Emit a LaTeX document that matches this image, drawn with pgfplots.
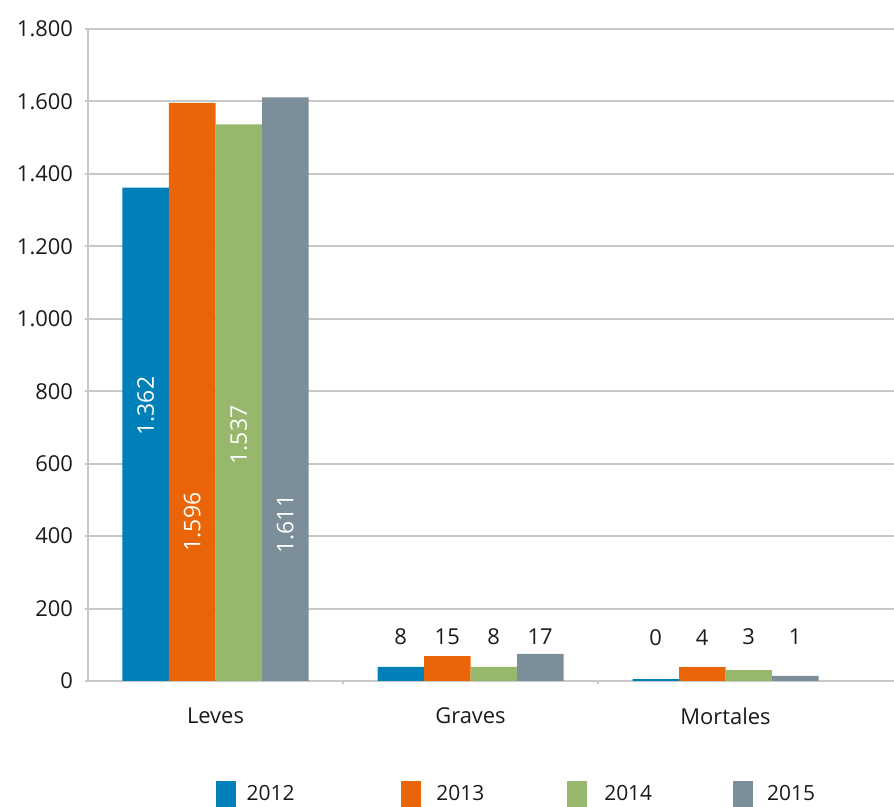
\documentclass[border=0pt]{standalone}
\usepackage{fontspec}
\setmainfont{Open Sans}
\usepackage{pgfplots}
\pgfplotsset{compat=1.18}
\definecolor{c12}{HTML}{0080B8}
\definecolor{c13}{HTML}{EA6508}
\definecolor{c14}{HTML}{96B76C}
\definecolor{c15}{HTML}{7B8E99}
\definecolor{gridc}{HTML}{C8C8C8}
\definecolor{txt}{HTML}{1A1A1A}
\begin{document}
\begin{tikzpicture}
\useasboundingbox (0,0) rectangle (447bp,403.5bp);
\begin{axis}[
  at={(44bp,63bp)}, anchor=south west,
  scale only axis, width=403bp, height=326bp,
  xmin=-0.5, xmax=2.6608, ymin=0, ymax=1800,
  ybar=0pt, bar width=23.25bp,
  axis x line*=bottom, axis y line*=left,
  axis line style={gridc, line width=1bp, -},
  ytick={0,200,...,1800},
  ymajorgrids, major grid style={gridc, line width=1bp},
  tick align=outside, major tick length=1.5bp,
  tick style={gridc, line width=1bp},
  xtick={0.5,1.5}, xticklabels={},
  extra x ticks={0,1,2}, extra x tick labels={Leves,Graves,Mortales},
  extra x tick style={major tick length=0pt, tick style={draw=none}, grid=none,
     xticklabel style={yshift=-10bp}},
  tick label style={font=\fontsize{11}{13}\selectfont, text=txt},
  yticklabel style={xshift=-2.5bp},
  /pgf/number format/.cd, 1000 sep={.}, assume math mode=true,
  /pgfplots/.cd,
  legend columns=4,
  legend style={at={(0,-0.1534)}, anchor=north west, draw=none, inner sep=0pt, outer sep=0pt,
     xshift=64bp,
     font=\fontsize{10.5}{12}\selectfont, text=txt,
     nodes={inner sep=0pt},
     /tikz/column 1/.style={column sep=5.3bp},
     /tikz/column 2/.style={column sep=53.5bp},
     /tikz/column 3/.style={column sep=7.5bp},
     /tikz/column 4/.style={column sep=41.5bp},
     /tikz/column 5/.style={column sep=8.5bp},
     /tikz/column 6/.style={column sep=40.5bp},
     /tikz/column 7/.style={column sep=7bp}},
]
\addplot[fill=c12, draw=none, legend image code/.code={\fill[c12] (0bp,-6.5bp) rectangle (10bp,6.5bp);}]
  coordinates {(0,1362) (1,39) (2,5)};
\addplot[fill=c13, draw=none, legend image code/.code={\fill[c13] (0bp,-6.5bp) rectangle (10bp,6.5bp);}]
  coordinates {(0,1596) (1,69) (2,38)};
\addplot[fill=c14, draw=none, legend image code/.code={\fill[c14] (0bp,-6.5bp) rectangle (10bp,6.5bp);}]
  coordinates {(0,1537) (1,39) (2,30)};
\addplot[fill=c15, draw=none, legend image code/.code={\fill[c15] (0bp,-6.5bp) rectangle (10bp,6.5bp);}]
  coordinates {(0,1611) (1,75) (2,14)};
\legend{2012,2013,2014,2015}
% labels inside the Leves bars
\node[rotate=90, text=white, font=\fontsize{11.5}{13}\selectfont] at (axis cs:-0.2735,759) {1.362};
\node[rotate=90, text=white, font=\fontsize{11.5}{13}\selectfont] at (axis cs:-0.0912,439) {1.596};
\node[rotate=90, text=white, font=\fontsize{11.5}{13}\selectfont] at (axis cs:0.0912,679) {1.537};
\node[rotate=90, text=white, font=\fontsize{11.5}{13}\selectfont] at (axis cs:0.2735,433) {1.611};
% labels above Graves and Mortales
\node[text=txt, font=\fontsize{11}{13}\selectfont] at (axis cs:0.7265,121) {8};
\node[text=txt, font=\fontsize{11}{13}\selectfont] at (axis cs:0.9088,121) {15};
\node[text=txt, font=\fontsize{11}{13}\selectfont] at (axis cs:1.0912,121) {8};
\node[text=txt, font=\fontsize{11}{13}\selectfont] at (axis cs:1.2735,121) {17};
\node[text=txt, font=\fontsize{11}{13}\selectfont] at (axis cs:1.7265,121) {0};
\node[text=txt, font=\fontsize{11}{13}\selectfont] at (axis cs:1.9088,121) {4};
\node[text=txt, font=\fontsize{11}{13}\selectfont] at (axis cs:2.0912,121) {3};
\node[text=txt, font=\fontsize{11}{13}\selectfont] at (axis cs:2.2735,121) {1};
\end{axis}
\end{tikzpicture}
\end{document}
